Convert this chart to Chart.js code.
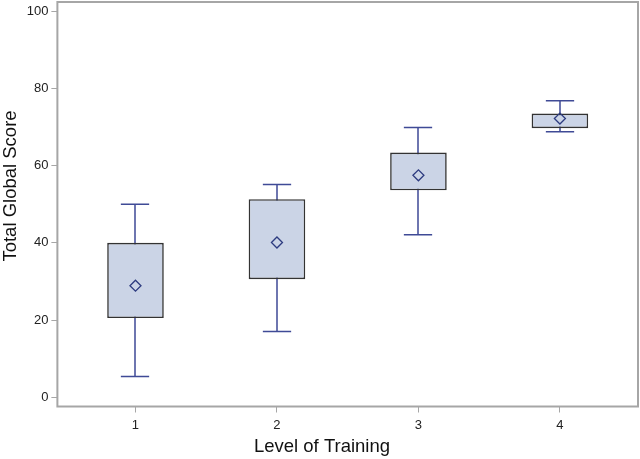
<!DOCTYPE html>
<html>
<head>
<meta charset="utf-8">
<script src="https://cdn.jsdelivr.net/npm/chart.js@4/dist/chart.umd.min.js"></script>
<style>
  html, body { margin: 0; padding: 0; background: #fff; }
  #wrap { width: 640px; height: 459px; }
</style>
</head>
<body>
<div id="wrap"><canvas id="myChart"></canvas></div>
<script>
var levels = [1, 2, 3, 4];
var whiskerMin = [5.4, 17.0, 42.1, 68.8];
var boxQ1 = [20.5, 30.6, 53.6, 69.7];
var boxQ3 = [40.0, 51.3, 63.4, 73.5];
var whiskerMax = [50.0, 55.1, 69.9, 76.8];
var means = [28.9, 40.1, 57.5, 72.2];
var yTicks = [0, 20, 40, 60, 80, 100];
var xTitle = 'Level of Training';
var yTitle = 'Total Global Score';

var boxData = [];
var meanData = [];
for (var i = 0; i < levels.length; i++) {
  boxData.push({x: levels[i], y: [boxQ1[i], boxQ3[i]]});
  meanData.push({x: levels[i], y: means[i]});
}

// whiskers go under the boxes, frame + axis titles on top
var whiskers = {
  id: 'whiskers',
  beforeDatasetsDraw: function(chart) {
    var ctx = chart.ctx;
    var xs = chart.scales.x, ys = chart.scales.y;
    var half = xs.getPixelForValue(1.1) - xs.getPixelForValue(1);
    ctx.save();
    ctx.strokeStyle = '#3f4a96';
    ctx.lineWidth = 1.5;
    for (var i = 0; i < levels.length; i++) {
      var px = Math.round(xs.getPixelForValue(levels[i]));
      var top = ys.getPixelForValue(whiskerMax[i]);
      var bot = ys.getPixelForValue(whiskerMin[i]);
      ctx.beginPath();
      ctx.moveTo(px, top); ctx.lineTo(px, bot);
      ctx.moveTo(px - half, top); ctx.lineTo(px + half, top);
      ctx.moveTo(px - half, bot); ctx.lineTo(px + half, bot);
      ctx.stroke();
    }
    ctx.restore();
  },
  afterDraw: function(chart) {
    var a = chart.chartArea;
    var ctx = chart.ctx;
    ctx.save();
    ctx.strokeStyle = '#a6a6a6';
    ctx.lineWidth = 2;
    ctx.strokeRect(a.left, a.top, a.right - a.left, a.bottom - a.top);

    // titles sit a bit off the plot centre in the original
    ctx.fillStyle = '#111';
    ctx.font = "18.5px 'Liberation Sans'";
    ctx.textAlign = 'center';
    ctx.textBaseline = 'middle';
    ctx.fillText(xTitle, 322, 446.5);
    ctx.translate(11, 186);
    ctx.rotate(-Math.PI / 2);
    ctx.fillText(yTitle, 0, 0);
    ctx.restore();
  }
};

new Chart("myChart", {
  type: "bar",
  data: {
    datasets: [{
      type: "bar",
      data: boxData,
      backgroundColor: '#cbd4e6',
      borderColor: '#333333',
      borderWidth: 1.6,
      borderSkipped: false,
      categoryPercentage: 0.5,
      barPercentage: 0.8,
      order: 2
    }, {
      type: "scatter",
      data: meanData,
      pointStyle: 'rectRot',
      pointRadius: 5.5,
      backgroundColor: 'rgba(0,0,0,0)',
      borderColor: '#2e3c80',
      borderWidth: 1.3,
      order: 1
    }]
  },
  options: {
    responsive: true,
    maintainAspectRatio: false,
    animation: false,
    layout: {autoPadding: false, padding: {top: 2, right: 2, left: 23.7, bottom: 21.5}},
    plugins: {legend: {display: false}, tooltip: {enabled: false}},
    scales: {
      x: {
        type: 'linear',
        offset: false,
        min: 0.448,
        max: 4.552,
        afterBuildTicks: function(s) { s.ticks = levels.map(function(v) { return {value: v}; }); },
        grid: {display: true, offset: false, drawOnChartArea: false, drawTicks: true, tickLength: 6, color: '#a6a6a6'},
        border: {display: false},
        ticks: {color: '#222', font: {family: 'Liberation Sans', size: 13, lineHeight: 1}, padding: 6}
      },
      y: {
        min: -2.4,
        max: 102.4,
        afterBuildTicks: function(s) { s.ticks = yTicks.map(function(v) { return {value: v}; }); },
        afterFit: function(s) { s.paddingTop = 0; s.paddingBottom = 0; },
        grid: {display: true, drawOnChartArea: false, drawTicks: true, tickLength: 6, color: '#a6a6a6'},
        border: {display: false},
        ticks: {color: '#222', font: {family: 'Liberation Sans', size: 13}, padding: 3}
      }
    }
  },
  plugins: [whiskers]
});
</script>
</body>
</html>
